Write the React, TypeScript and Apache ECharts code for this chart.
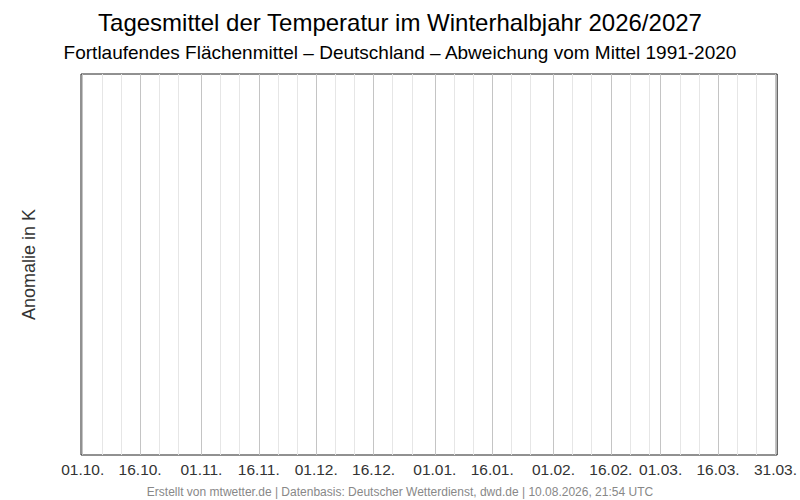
import React, { useEffect, useRef } from "react";
import * as echarts from "echarts";

const startDate = "2026-10-01";
const endDate = "2027-03-31";
const majorDates = [
  "2026-10-01", "2026-10-16", "2026-11-01", "2026-11-16", "2026-12-01", "2026-12-16",
  "2027-01-01", "2027-01-16", "2027-02-01", "2027-02-16", "2027-03-01", "2027-03-16", "2027-03-31",
];
const majorLabels = [
  "01.10.", "16.10.", "01.11.", "16.11.", "01.12.", "16.12.",
  "01.01.", "16.01.", "01.02.", "16.02.", "01.03.", "16.03.", "31.03.",
];
const minorDates = [
  "2026-10-06", "2026-10-11", "2026-10-21", "2026-10-26",
  "2026-11-06", "2026-11-11", "2026-11-21", "2026-11-26",
  "2026-12-06", "2026-12-11", "2026-12-21", "2026-12-26",
  "2027-01-06", "2027-01-11", "2027-01-21", "2027-01-26",
  "2027-02-06", "2027-02-11", "2027-02-21", "2027-02-26",
  "2027-03-06", "2027-03-11", "2027-03-21", "2027-03-26",
];
// no anomaly data available yet for this winter half-year
const anomalyValues: [number, number][] = [];

const dayIndex = (d: string) =>
  Math.round((Date.parse(d + "T00:00:00Z") - Date.parse(startDate + "T00:00:00Z")) / 86400000);

export default function App() {
  const ref = useRef<HTMLDivElement>(null);
  useEffect(() => {
    if (!ref.current) return;
    const chart = echarts.init(ref.current, null, { renderer: "svg" });
    const majors = majorDates.map(dayIndex);
    const minors = minorDates.map(dayIndex);
    const lastDay = dayIndex(endDate);
    const labelMap: Record<number, string> = {};
    majors.forEach((v, i) => (labelMap[v] = majorLabels[i]));
    const font = "'Liberation Sans', Arial, sans-serif";
    chart.setOption({
      animation: false,
      textStyle: { fontFamily: font },
      title: [
        {
          text: "Tagesmittel der Temperatur im Winterhalbjahr 2026/2027",
          left: "center",
          top: 5,
          textStyle: { fontSize: 24, fontWeight: "normal", color: "#000", fontFamily: font },
        },
        {
          text: "Fortlaufendes Flächenmittel – Deutschland – Abweichung vom Mittel 1991-2020",
          left: "center",
          top: 38,
          textStyle: { fontSize: 19, fontWeight: "normal", color: "#000", fontFamily: font },
        },
        {
          text: "Erstellt von mtwetter.de | Datenbasis: Deutscher Wetterdienst, dwd.de | 10.08.2026, 21:54 UTC",
          left: "center",
          top: 481,
          textStyle: { fontSize: 12, fontWeight: "normal", color: "#888", fontFamily: font },
        },
      ],
      grid: {
        left: 81,
        top: 74,
        width: 699,
        height: 381,
        show: true,
        borderColor: "#222",
        borderWidth: 1,
        backgroundColor: "#fff",
        containLabel: false,
      },
      xAxis: [
        {
          type: "value",
          min: -0.45,
          max: lastDay + 0.45,
          axisLine: { show: false },
          axisTick: { show: false, customValues: majors },
          axisLabel: {
            customValues: majors,
            formatter: (v: number) => labelMap[Math.round(v)] ?? "",
            fontSize: 15.5,
            color: "#333",
            margin: 6,
            fontFamily: font,
          },
          splitLine: { show: true, lineStyle: { color: "#c4c4c4", width: 1 } },
        },
        {
          type: "value",
          min: -0.45,
          max: lastDay + 0.45,
          position: "bottom",
          axisLine: { show: false },
          axisTick: { show: false, customValues: minors },
          axisLabel: { show: false, customValues: minors },
          splitLine: { show: true, lineStyle: { color: "#e6e6e6", width: 1 } },
        },
      ],
      yAxis: {
        type: "value",
        min: -1,
        max: 1,
        name: "Anomalie in K",
        nameLocation: "middle",
        nameGap: 43,
        nameTextStyle: { fontSize: 18, color: "#333", fontFamily: font },
        axisLine: { show: false },
        axisTick: { show: false },
        axisLabel: { show: false },
        splitLine: { show: false },
      },
      series: [
        {
          type: "line",
          data: anomalyValues,
          showSymbol: false,
          lineStyle: { color: "#c00" },
        },
      ],
    });
    return () => chart.dispose();
  }, []);
  return <div ref={ref} style={{ width: 800, height: 500, position: "absolute", left: 0, top: 0 }} />;
}
